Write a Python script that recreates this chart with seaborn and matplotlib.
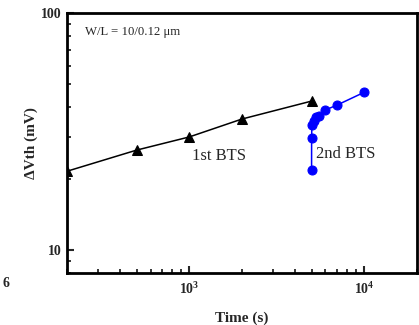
import numpy as np
import pandas as pd
import matplotlib
matplotlib.use("Agg")
import matplotlib.pyplot as plt
import matplotlib.ticker as mticker
import seaborn as sns

# Data
t1 = [200, 500, 1000, 2000, 5000]
v1 = [21.5, 26.4, 30.0, 35.7, 42.5]
t2 = [5000, 5002, 5020, 5130, 5300, 5500, 6000, 7000, 10000]
v2 = [21.8, 29.7, 33.7, 35.1, 36.3, 36.9, 39.0, 40.9, 46.3]
xlim = (200, 20000)
ylim = (8.0, 100)

sns.set_theme(style="ticks")
plt.rcParams['font.family'] = ['Liberation Serif', 'DejaVu Serif']
plt.rcParams['mathtext.fontset'] = 'custom'
plt.rcParams['mathtext.rm'] = 'Liberation Serif'
plt.rcParams['mathtext.bf'] = 'Liberation Serif:bold'

df1 = pd.DataFrame({"t": t1, "v": v1})
df2 = pd.DataFrame({"t": t2, "v": v2})

fig = plt.figure(figsize=(4.19, 3.25), dpi=100)
ax = fig.add_axes([0.160, 0.160, 0.835, 0.800])

sns.lineplot(data=df1, x="t", y="v", ax=ax, color="black", marker="^",
             markersize=6.5, linewidth=1.1, markeredgecolor="black", sort=False)
sns.lineplot(data=df2, x="t", y="v", ax=ax, color="#0000ff", marker="o",
             markersize=6.5, linewidth=1.1, markeredgecolor="#0000ff", sort=False)

ax.set_xscale("log")
ax.set_yscale("log")
ax.set_xlim(*xlim)
ax.set_ylim(*ylim)

for s in ax.spines.values():
    s.set_linewidth(2.0)
    s.set_color("black")

ax.xaxis.set_major_locator(mticker.FixedLocator([1000, 10000]))
ax.xaxis.set_major_formatter(mticker.FuncFormatter(
    lambda v, p: r"$\mathbf{10^{%d}}$" % round(np.log10(v))))
ax.xaxis.set_minor_locator(mticker.LogLocator(base=10, subs=np.arange(2, 10)))
ax.xaxis.set_minor_formatter(mticker.NullFormatter())
ax.yaxis.set_major_locator(mticker.FixedLocator([10, 100]))
ax.yaxis.set_major_formatter(mticker.FuncFormatter(lambda v, p: "%d" % v))
ax.yaxis.set_minor_locator(mticker.LogLocator(base=10, subs=np.arange(2, 10)))
ax.yaxis.set_minor_formatter(mticker.NullFormatter())

ax.tick_params(which="major", direction="in", length=5, width=1.5,
               labelsize=10, top=False, right=False)
ax.tick_params(axis="x", which="major", pad=6)
ax.tick_params(axis="y", which="major", pad=4)
ax.tick_params(which="minor", direction="in", length=3, width=1.3,
               top=False, right=False)
for lab in ax.get_yticklabels():
    lab.set_fontweight("bold")

ax.set_xlabel("Time (s)", fontsize=11, fontweight="bold", labelpad=10)
ax.set_ylabel("ΔVth (mV)", fontsize=11, fontweight="bold", labelpad=2)

ax.text(0.050, 0.925, "W/L = 10/0.12 μm", transform=ax.transAxes,
        fontsize=9.2, ha="left", va="center")
ax.text(0.357, 0.45, "1st BTS", transform=ax.transAxes,
        fontsize=12, ha="left", va="center")
ax.text(0.711, 0.458, "2nd BTS", transform=ax.transAxes,
        fontsize=12, ha="left", va="center")
fig.text(0.005, 0.128, "6", fontsize=10, fontweight="bold", ha="left", va="center")

fig.savefig("out.png", dpi=100)
